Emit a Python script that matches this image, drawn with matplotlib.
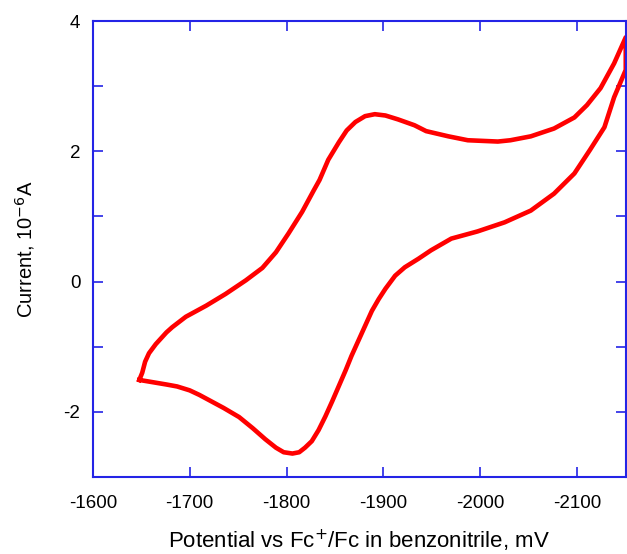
#! /usr/bin/env python3
# Cyclic voltammogram, potential vs Fc+/Fc in benzonitrile

import numpy as np
import matplotlib.pyplot as plt
from matplotlib.ticker import MultipleLocator

# forward branch (vertex at -1650 mV, scanning to -2150 mV)
E_fwd = [-1648, -1651, -1654, -1658, -1665, -1676, -1682, -1696, -1717, -1737,
         -1758, -1775, -1789, -1802, -1816, -1828, -1834, -1843, -1854, -1862,
         -1871, -1881, -1891, -1902, -1915, -1932, -1944, -1967, -1987, -2018,
         -2031, -2052, -2076, -2097, -2110, -2124, -2138, -2150]
I_fwd = [-1.51, -1.40, -1.23, -1.10, -0.96, -0.78, -0.70, -0.54, -0.37, -0.19,
         0.02, 0.21, 0.45, 0.74, 1.07, 1.40, 1.56, 1.87, 2.14, 2.32,
         2.45, 2.54, 2.57, 2.55, 2.49, 2.40, 2.31, 2.23, 2.17, 2.15,
         2.17, 2.23, 2.35, 2.52, 2.71, 2.97, 3.35, 3.75]

# return branch
E_rev = [-2150, -2138, -2128, -2113, -2097, -2076, -2052, -2025, -1997, -1970,
         -1949, -1936, -1922, -1912, -1902, -1895, -1888, -1881, -1874, -1867,
         -1861, -1854, -1847, -1840, -1833, -1826, -1819, -1813, -1806, -1797,
         -1789, -1778, -1765, -1751, -1735, -1720, -1710, -1700, -1687, -1676,
         -1664, -1648]
I_rev = [3.25, 2.83, 2.37, 2.02, 1.66, 1.35, 1.09, 0.91, 0.77, 0.66,
         0.48, 0.35, 0.22, 0.09, -0.11, -0.27, -0.45, -0.68, -0.91, -1.14,
         -1.36, -1.60, -1.84, -2.07, -2.28, -2.45, -2.55, -2.62, -2.64, -2.62,
         -2.55, -2.42, -2.25, -2.08, -1.94, -1.82, -1.74, -1.67, -1.61, -1.58,
         -1.55, -1.51]

plt.rcParams['font.family'] = ['Liberation Sans', 'DejaVu Sans']
plt.rcParams['axes.unicode_minus'] = False
axcol = '#2424e6'

fig = plt.figure(figsize=(6.27, 5.54), dpi=100)
ax = fig.add_axes([0.148, 0.139, 0.850, 0.823])

E = np.array(E_fwd + E_rev)
I = np.array(I_fwd + I_rev)
ax.plot(E, I, color='#ff0000', lw=3.3, solid_joinstyle='round')

ax.set_xlim(-1600, -2150)
ax.set_ylim(-3, 4)
ax.xaxis.set_major_locator(MultipleLocator(100))
ax.yaxis.set_major_locator(MultipleLocator(2))
ax.yaxis.set_minor_locator(MultipleLocator(1))

for s in ax.spines.values():
    s.set_color(axcol)
    s.set_linewidth(1.5)
ax.tick_params(which='both', direction='in', top=True, right=True,
               color=axcol, width=1.2, length=7, labelsize=13.5)
ax.tick_params(axis='x', pad=13)
ax.tick_params(axis='y', pad=9)

ax.set_xlabel("Potential vs Fc$^{+}$/Fc in benzonitrile, mV", fontsize=16)
ax.set_ylabel("Current, 10$^{-6}$A", fontsize=14.5)
ax.xaxis.set_label_coords(0.5, -0.139)
ax.yaxis.set_label_coords(-0.128, 0.5)
ax.xaxis.label.set_va('center')
ax.yaxis.label.set_va('center')

fig.savefig("out.png", dpi=100)
